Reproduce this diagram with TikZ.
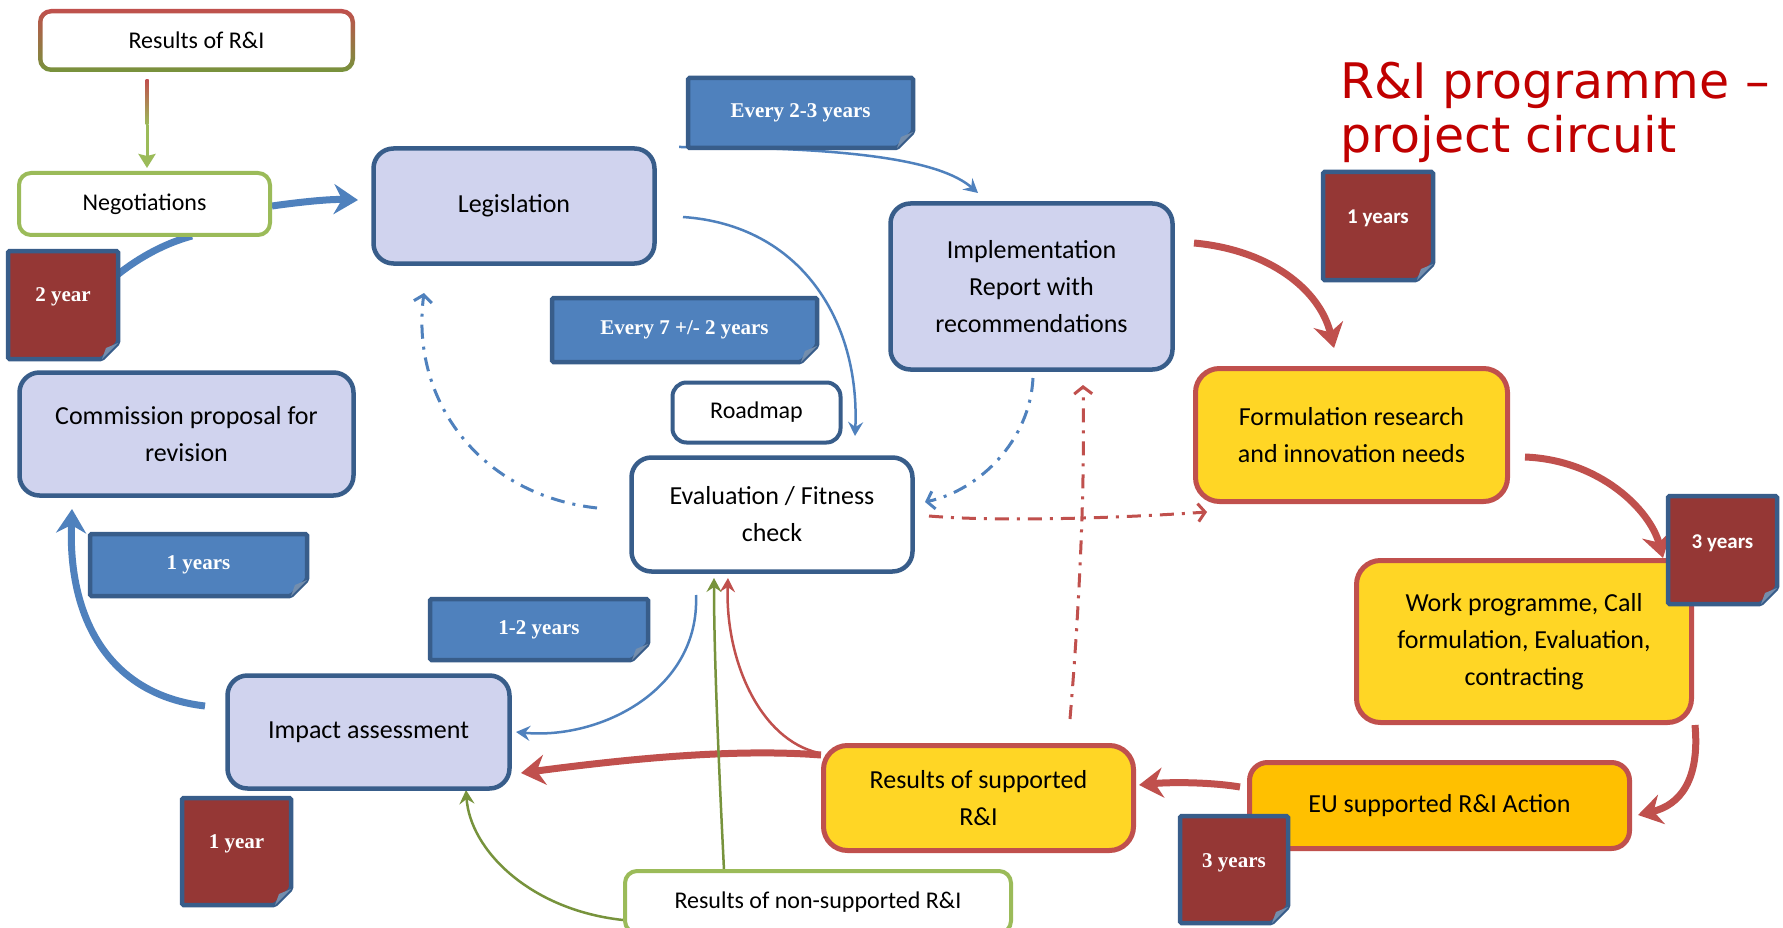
\documentclass[tikz,border=0pt]{standalone}
\usepackage{fontspec}
\usetikzlibrary{arrows.meta}
\newfontfamily\cf{Carlito}
\newfontfamily\tmf{Liberation Serif}
\newfontfamily\ttlf{DejaVu Sans}
\definecolor{lav}{RGB}{208,211,238}
\definecolor{dblue}{RGB}{56,93,138}
\definecolor{mblue}{RGB}{79,129,189}
\definecolor{dred}{RGB}{149,55,53}
\definecolor{rline}{RGB}{192,80,77}
\definecolor{yel}{RGB}{255,214,37}
\definecolor{orng}{RGB}{255,192,0}
\definecolor{lgreen}{RGB}{155,187,89}
\definecolor{dgreen}{RGB}{119,147,60}
\definecolor{ttlred}{RGB}{192,0,0}
\newcommand\tagshape[5]{%
  \draw[line width=4.5pt, draw=dblue, fill=#5, rounded corners=1.5pt] (#1,#2) -- (#3,#2) -- (#3,{#4-16}) -- ({#3-16},#4) -- (#1,#4) -- cycle;
  \fill[dblue!70!white] (#3,{#4-16}) -- ({#3-16},#4) -- ({#3-12},{#4-11}) -- cycle;
}
\begin{document}
\begin{tikzpicture}[x=1pt,y=-1pt,
  box/.style={rounded corners=20pt, align=center, inner sep=0pt, font=\cf\fontsize{26}{37}\selectfont},
  lavbox/.style={box, draw=dblue, fill=lav, line width=4.5pt},
  whbox/.style={box, draw=dblue, fill=white, line width=4.5pt},
  yelbox/.style={box, draw=rline, fill=yel, line width=5pt, rounded corners=24pt},
  grbox/.style={box, draw=lgreen, fill=white, line width=4pt, rounded corners=12pt, font=\cf\fontsize{24}{30}\selectfont},
  sz/.style 2 args={minimum width=#1pt, minimum height=#2pt},
  tagtxt/.style={text=white, inner sep=0pt, font=\tmf\bfseries\fontsize{21}{21}\selectfont},
  tagtxtc/.style={text=white, inner sep=0pt, font=\cf\bfseries\fontsize{21}{21}\selectfont},
  thickb/.style={line width=7pt, draw=mblue},
  thickr/.style={line width=7pt, draw=rline},
  thin/.style={line width=2.5pt},
  dd/.style={line width=3pt, dash pattern=on 14pt off 8pt on 3pt off 8pt},
  bigtip/.style={-{Stealth[length=24pt,width=30pt,inset=8pt]}},
  smtip/.style={-{Stealth[length=14pt,width=15pt,inset=5pt]}},
  vtip/.style={-{Straight Barb[length=7pt,width=18pt]}},
]
\useasboundingbox (0,0) rectangle (1783,928);
\fill[white] (0,0) rectangle (1783,928);

% ---------- coordinates for connector ends ----------
\coordinate (a1s) at (147,80);
\coordinate (a1m) at (147,125);
\coordinate (a1e) at (147,168);
\coordinate (a2s) at (272,206);
\coordinate (a2e) at (358,200);
\coordinate (a3s) at (60,340);
\coordinate (a3e) at (192,236);
\coordinate (a4s) at (679,147);
\coordinate (a4e) at (978,193);
\coordinate (a5s) at (683,217);
\coordinate (a5e) at (855,436);
\coordinate (a6s) at (1194,243);
\coordinate (a6e) at (1334,348);
\coordinate (a7s) at (1525,457);
\coordinate (a7e) at (1663,558);
\coordinate (a8s) at (1695,725);
\coordinate (a8e) at (1638,815);
\coordinate (a9s) at (1240,787);
\coordinate (a9e) at (1139,785);
\coordinate (a10s) at (821,755);
\coordinate (a10e) at (521,773);
\coordinate (a11s) at (819,753);
\coordinate (a11e) at (728,578);
\coordinate (a12s) at (724,870);
\coordinate (a12e) at (714,578);
\coordinate (a13s) at (623,920);
\coordinate (a13e) at (466,790);
\coordinate (a14s) at (696,595);
\coordinate (a14e) at (516,732);
\coordinate (a15s) at (205,706);
\coordinate (a15e) at (72,509);
\coordinate (a16s) at (597,508);
\coordinate (a16e) at (424,293);
\coordinate (a17s) at (1033,378);
\coordinate (a17e) at (925,502);
\coordinate (a18s) at (929,516);
\coordinate (a18e) at (1207,512);
\coordinate (a19s) at (1070,719);
\coordinate (a19e) at (1083,385);

% ---------- connectors ----------
\shade[top color=rline, bottom color=lgreen] (145.5,80) rectangle (148.5,125);
\draw[line width=3pt, lgreen, -{Stealth[length=14pt,width=17pt,inset=2pt]}] (a1m) -- (a1e);
\draw[thickb, bigtip] (a2s) .. controls (300,202) and (330,199) .. (a2e);
\draw[thickb] (a3s) .. controls (90,290) and (140,250) .. (a3e);
\draw[thin, mblue, smtip] (a4s) .. controls (850,147) and (940,160) .. (a4e);
\draw[thin, mblue, smtip] (a5s) .. controls (800,225) and (860,320) .. (a5e);
\draw[thickr, bigtip] (a6s) .. controls (1270,250) and (1320,290) .. (a6e);
\draw[thickr, bigtip] (a7s) .. controls (1600,460) and (1650,510) .. (a7e);
\draw[thickr, bigtip] (a8s) .. controls (1700,780) and (1680,805) .. (a8e);
\draw[thickr, bigtip] (a9s) .. controls (1210,782) and (1170,782) .. (a9e);
\draw[thickr, bigtip] (a10s) .. controls (730,748) and (620,760) .. (a10e);
\draw[thin, rline, smtip] (a11s) .. controls (760,740) and (725,660) .. (a11e);
\draw[thin, dgreen, smtip] (a12s) .. controls (718,750) and (714,650) .. (a12e);
\draw[thin, dgreen, smtip] (a13s) .. controls (530,910) and (470,850) .. (a13e);
\draw[thin, mblue, smtip] (a14s) .. controls (700,690) and (600,740) .. (a14e);
\draw[thickb, bigtip] (a15s) .. controls (110,695) and (68,620) .. (a15e);
\draw[dd, mblue, vtip] (a16s) .. controls (480,495) and (410,400) .. (a16e);
\draw[dd, mblue, vtip] (a17s) .. controls (1030,440) and (980,490) .. (a17e);
\draw[dd, rline, vtip] (a18s) .. controls (1000,522) and (1120,518) .. (a18e);
\draw[dd, rline, vtip] (a19s) .. controls (1080,600) and (1085,480) .. (a19e);

% ---------- boxes ----------
\shade[top color=rline, middle color=lgreen, bottom color=dgreen, rounded corners=13pt] (38,9) rectangle (355,72);
\fill[white, rounded corners=9pt] (42.5,13.5) rectangle (350.5,67.5);
\node[box, font=\cf\fontsize{24}{30}\selectfont, sz={313}{59}] (resri) at (196.5,40.5) {Results of R\&I};
\node[grbox, sz={251}{62}] (nego) at (144.5,204) {Negotiations};
\node[lavbox, sz={281}{115}] (leg) at (514,206) {Legislation};
\node[lavbox, sz={282}{166}] (impl) at (1031.5,286.5) {Implementation\\Report with\\recommendations};
\node[yelbox, sz={312}{133}] (form) at (1351.5,435) {Formulation research\\and innovation needs};
\node[yelbox, sz={335}{162}] (work) at (1524,641.5) {Work programme, Call\\formulation, Evaluation,\\contracting};
\node[yelbox, fill=orng, rounded corners=18pt, sz={380}{86}] (eu) at (1439.5,805.5) {EU supported R\&I Action};
\node[yelbox, sz={310}{105}] (ressup) at (978.5,798) {Results of supported\\R\&I};
\node[grbox, sz={386}{62}] (nonsup) at (818,902) {Results of non-supported R\&I};
\node[lavbox, sz={282}{113}] (impact) at (368.5,732) {Impact assessment};
\node[whbox, sz={281}{114}] (eval) at (772,514.5) {Evaluation / Fitness\\check};
\node[whbox, line width=4pt, rounded corners=14pt, font=\cf\fontsize{24}{30}\selectfont, sz={168}{60}] (road) at (756.5,412.5) {Roadmap};
\node[lavbox, sz={334}{123}] (comm) at (186.5,434) {Commission proposal for\\revision};

% ---------- tags ----------
\tagshape{688}{78}{913}{148}{mblue}
\node[tagtxt] (t1) at (800.5,113) {Every 2-3 years};
\tagshape{552}{298}{817}{362}{mblue}
\node[tagtxt] (t2) at (684.5,330) {Every 7 +/- 2 years};
\tagshape{90}{534}{307}{596}{mblue}
\node[tagtxt] (t3) at (198.5,565) {1 years};
\tagshape{430}{599}{648}{660}{mblue}
\node[tagtxt] (t4) at (539,629.5) {1-2 years};
\tagshape{8}{251}{118}{359}{dred}
\node[tagtxt] (t5) at (63,297) {2 year};
\tagshape{1323}{172}{1433}{280}{dred}
\node[tagtxtc] (t6) at (1378,218) {1 years};
\tagshape{1668}{496}{1777}{604}{dred}
\node[tagtxtc] (t7) at (1722.5,543) {3 years};
\tagshape{1180}{816}{1288}{923}{dred}
\node[tagtxt] (t8) at (1234,863) {3 years};
\tagshape{182}{798}{291}{905}{dred}
\node[tagtxt] (t9) at (236.5,844) {1 year};

% ---------- title ----------
\node[anchor=base west, inner sep=0pt, text=ttlred, font=\ttlf\fontsize{49}{53}\selectfont] (title1) at (1340,99) {R\&I programme –};
\node[anchor=base west, inner sep=0pt, text=ttlred, font=\ttlf\fontsize{49}{53}\selectfont] (title2) at (1340,153) {project circuit};
\end{tikzpicture}
\end{document}
